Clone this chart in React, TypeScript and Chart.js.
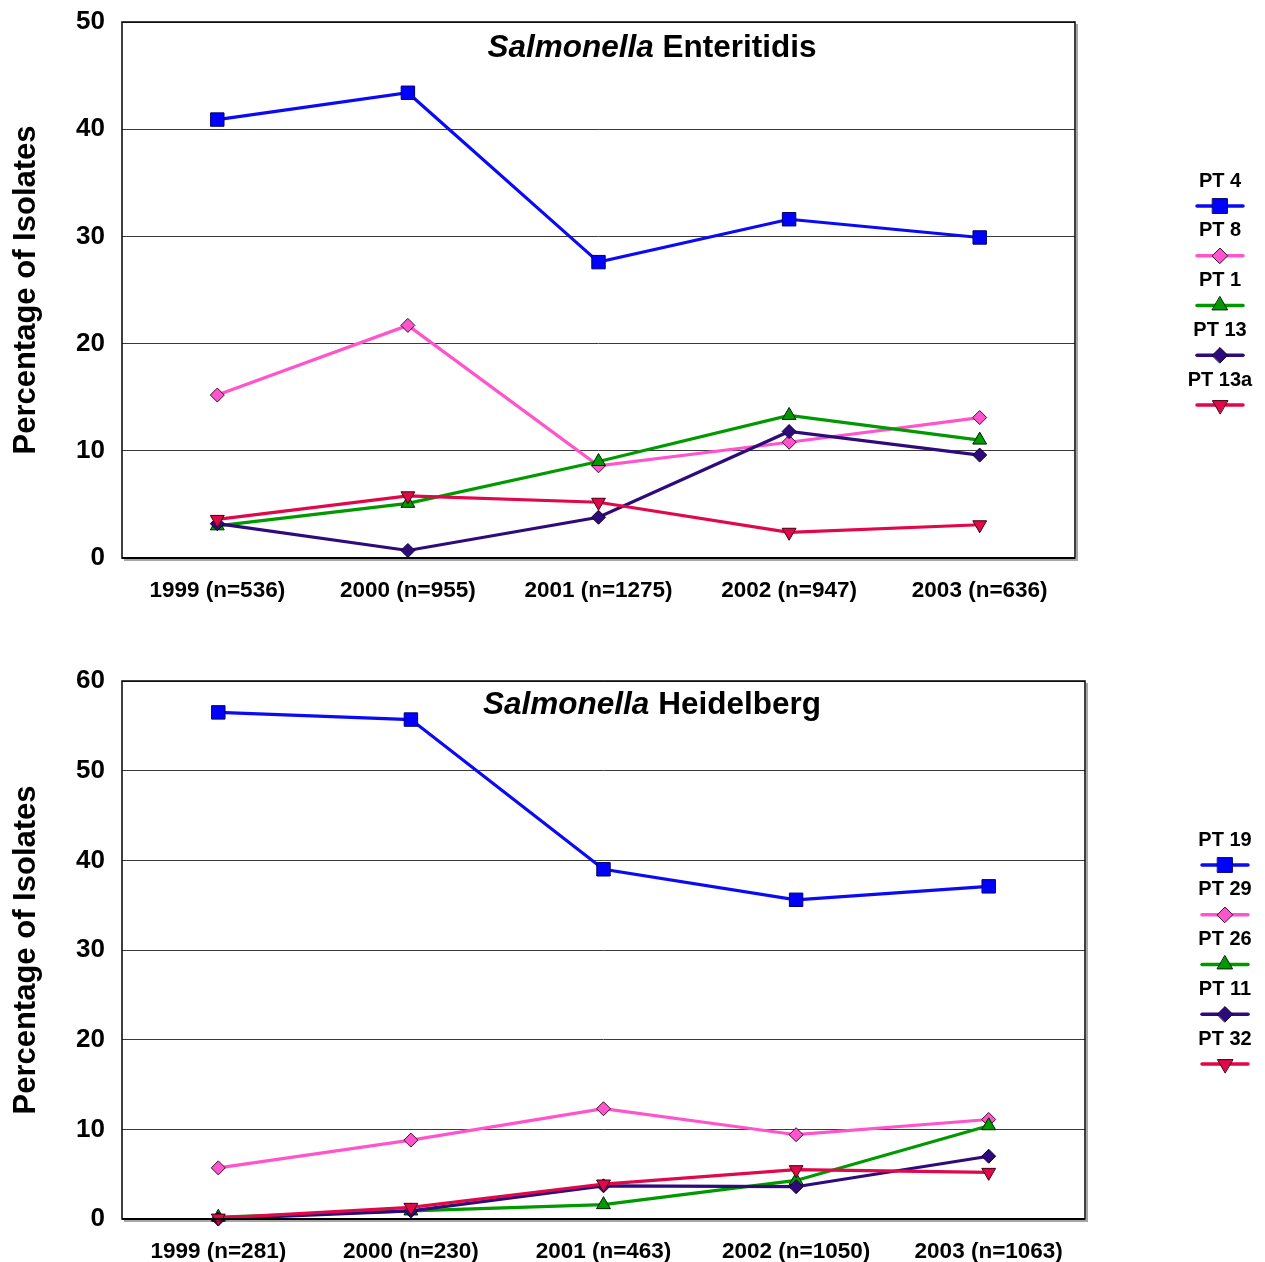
import React, { useEffect, useRef } from 'react';
import { Chart, registerables } from 'chart.js';
import { drawPoint } from 'chart.js/helpers';

Chart.register(...registerables);

// ---------- Data: Salmonella Enteritidis ----------
const enteritidisYears = ['1999 (n=536)', '2000 (n=955)', '2001 (n=1275)', '2002 (n=947)', '2003 (n=636)'];
const enteritidisPT4 = [40.9, 43.4, 27.6, 31.6, 29.9];
const enteritidisPT8 = [15.2, 21.7, 8.6, 10.8, 13.1];
const enteritidisPT1 = [3.0, 5.1, 9.0, 13.3, 11.0];
const enteritidisPT13 = [3.2, 0.7, 3.8, 11.8, 9.6];
const enteritidisPT13a = [3.6, 5.8, 5.2, 2.4, 3.1];
const enteritidisSeriesNames = ['PT 4', 'PT 8', 'PT 1', 'PT 13', 'PT 13a'];
const enteritidisYTicks = [0, 10, 20, 30, 40, 50];

// ---------- Data: Salmonella Heidelberg ----------
const heidelbergYears = ['1999 (n=281)', '2000 (n=230)', '2001 (n=463)', '2002 (n=1050)', '2003 (n=1063)'];
const heidelbergPT19 = [56.5, 55.7, 39.0, 35.6, 37.1];
const heidelbergPT29 = [5.7, 8.8, 12.3, 9.4, 11.1];
const heidelbergPT26 = [0.2, 0.9, 1.6, 4.3, 10.4];
const heidelbergPT11 = [0.0, 0.9, 3.7, 3.6, 7.0];
const heidelbergPT32 = [0.1, 1.3, 3.9, 5.5, 5.2];
const heidelbergSeriesNames = ['PT 19', 'PT 29', 'PT 26', 'PT 11', 'PT 32'];
const heidelbergYTicks = [0, 10, 20, 30, 40, 50, 60];

const FONT = '"Liberation Sans", Arial, Helvetica, sans-serif';

type Style = {
  color: string;
  fill: string;
  border: string;
  pointStyle: string;
  radius: number;
  rotation: number;
};

const STYLES: Style[] = [
  { color: '#0a0af5', fill: '#0000ff', border: '#00006a', pointStyle: 'rect', radius: 9.5, rotation: 0 },
  { color: '#ff55cc', fill: '#ff55cc', border: '#3a1030', pointStyle: 'rectRot', radius: 7, rotation: 0 },
  { color: '#009900', fill: '#009900', border: '#002000', pointStyle: 'triangle', radius: 8, rotation: 0 },
  { color: '#2e0a7a', fill: '#2e0a7a', border: '#10002a', pointStyle: 'rectRot', radius: 7, rotation: 0 },
  { color: '#e0084a', fill: '#e0084a', border: '#400010', pointStyle: 'triangle', radius: 8, rotation: 180 },
];

type Props = {
  width: number;
  height: number;
  labels: string[];
  series: number[][];
  names: string[];
  yTicks: number[];
  italicTitle: string;
  plainTitle: string;
  padTop: number;
  padRight: number;
  xAxisHeight: number;
  titleX: number;
  titleOffset: number;
  legendX: number;
};

function LineChart(p: Props) {
  const ref = useRef<HTMLCanvasElement | null>(null);

  useEffect(() => {
    if (!ref.current) return;
    const yMax = p.yTicks[p.yTicks.length - 1];
    const step = p.yTicks[1] - p.yTicks[0];

    const decorPlugin = {
      id: 'decor',
      afterDraw(chart: any) {
        const { ctx, chartArea } = chart;
        const { left, right, top, bottom } = chartArea;
        ctx.save();
        // frame
        ctx.strokeStyle = '#000';
        ctx.lineWidth = 1.5;
        ctx.strokeRect(left, top, right - left, bottom - top);
        // bottom/right shadow
        ctx.strokeStyle = 'rgba(0,0,0,0.35)';
        ctx.lineWidth = 2;
        ctx.beginPath();
        ctx.moveTo(left + 2, bottom + 2);
        ctx.lineTo(right + 2, bottom + 2);
        ctx.lineTo(right + 2, top + 2);
        ctx.stroke();
        ctx.strokeStyle = '#000';
        ctx.lineWidth = 2;
        ctx.beginPath();
        ctx.moveTo(left, bottom);
        ctx.lineTo(right, bottom);
        ctx.stroke();

        // title
        ctx.fillStyle = '#000';
        ctx.textBaseline = 'middle';
        const italicFont = `italic bold 31.5px ${FONT}`;
        const boldFont = `bold 31.5px ${FONT}`;
        ctx.font = italicFont;
        const w1 = ctx.measureText(p.italicTitle + ' ').width;
        ctx.font = boldFont;
        const w2 = ctx.measureText(p.plainTitle).width;
        const startX = p.titleX - (w1 + w2) / 2;
        const ty = top + p.titleOffset;
        ctx.font = italicFont;
        ctx.textAlign = 'left';
        ctx.fillText(p.italicTitle + ' ', startX, ty);
        ctx.font = boldFont;
        ctx.fillText(p.plainTitle, startX + w1, ty);

        // legend
        const cx = p.legendX;
        p.names.forEach((name, i) => {
          const st = STYLES[i];
          const ly = top + 159 + i * 49.75;
          ctx.font = `bold 20px ${FONT}`;
          ctx.textAlign = 'center';
          ctx.textBaseline = 'middle';
          ctx.fillStyle = '#000';
          ctx.fillText(name, cx, ly);
          const lineY = ly + 25;
          ctx.strokeStyle = st.color;
          ctx.lineWidth = 3.5;
          ctx.lineCap = 'round';
          ctx.beginPath();
          ctx.moveTo(cx - 23, lineY);
          ctx.lineTo(cx + 23, lineY);
          ctx.stroke();
          ctx.fillStyle = st.fill;
          ctx.strokeStyle = st.border;
          ctx.lineWidth = 1;
          drawPoint(ctx, {
            pointStyle: st.pointStyle as any,
            rotation: st.rotation,
            radius: st.radius * 1.1,
            borderWidth: 1,
          } as any, cx, lineY);
        });
        ctx.restore();
      },
    };

    const chart = new Chart(ref.current, {
      type: 'line',
      data: {
        labels: p.labels,
        datasets: p.series.map((data, i) => {
          const st = STYLES[i];
          return {
            label: p.names[i],
            data,
            borderColor: st.color,
            backgroundColor: st.fill,
            borderWidth: 3.2,
            pointStyle: st.pointStyle as any,
            pointRadius: st.radius,
            pointHoverRadius: st.radius,
            pointRotation: st.rotation,
            pointBackgroundColor: st.fill,
            pointBorderColor: st.border,
            pointBorderWidth: 1,
            tension: 0,
            fill: false,
            clip: false as any,
            order: -i,
          };
        }),
      },
      options: {
        responsive: false,
        animation: false,
        devicePixelRatio: 1,
        layout: { padding: { top: p.padTop, right: p.padRight, left: 0, bottom: 0 } },
        plugins: {
          legend: { display: false },
          tooltip: { enabled: false },
          title: { display: false },
        },
        scales: {
          x: {
            type: 'category',
            offset: true,
            grid: { display: false, drawTicks: false },
            border: { display: false },
            ticks: {
              color: '#000',
              font: { family: FONT, size: 22.5, weight: 'bold' },
              padding: 19,
              maxRotation: 0,
              autoSkip: false,
            },
            afterFit(scale: any) {
              scale.height = p.xAxisHeight;
              scale.paddingLeft = 0;
              scale.paddingRight = 0;
            },
          },
          y: {
            min: 0,
            max: yMax,
            grid: { color: '#3a3a3a', lineWidth: 1, drawTicks: false },
            border: { display: false },
            ticks: {
              stepSize: step,
              color: '#000',
              font: { family: FONT, size: 26, weight: 'bold' },
              padding: 17,
            },
            title: {
              display: true,
              text: 'Percentage of Isolates',
              color: '#000',
              font: { family: FONT, size: 31, weight: 'bold' },
              padding: { top: 0, bottom: 0 },
            },
            afterFit(scale: any) {
              scale.width = 114;
              scale.paddingTop = 0;
              scale.paddingBottom = 0;
            },
          },
        },
      } as any,
      plugins: [decorPlugin],
    });
    return () => chart.destroy();
  }, []);

  return <canvas ref={ref} width={p.width} height={p.height} style={{ display: 'block' }} />;
}

export default function App() {
  return (
    <div style={{ width: 1249, background: '#fff' }}>
      <LineChart
        width={1249}
        height={600}
        labels={enteritidisYears}
        series={[enteritidisPT4, enteritidisPT8, enteritidisPT1, enteritidisPT13, enteritidisPT13a]}
        names={enteritidisSeriesNames}
        yTicks={enteritidisYTicks}
        italicTitle="Salmonella"
        plainTitle="Enteritidis"
        padTop={14}
        padRight={182}
        xAxisHeight={50}
        titleX={644}
        titleOffset={26}
        legendX={1212}
      />
      <LineChart
        width={1249}
        height={654}
        labels={heidelbergYears}
        series={[heidelbergPT19, heidelbergPT29, heidelbergPT26, heidelbergPT11, heidelbergPT32]}
        names={heidelbergSeriesNames}
        yTicks={heidelbergYTicks}
        italicTitle="Salmonella"
        plainTitle="Heidelberg"
        padTop={73}
        padRight={172}
        xAxisHeight={43}
        titleX={644}
        titleOffset={24}
        legendX={1217}
      />
    </div>
  );
}
